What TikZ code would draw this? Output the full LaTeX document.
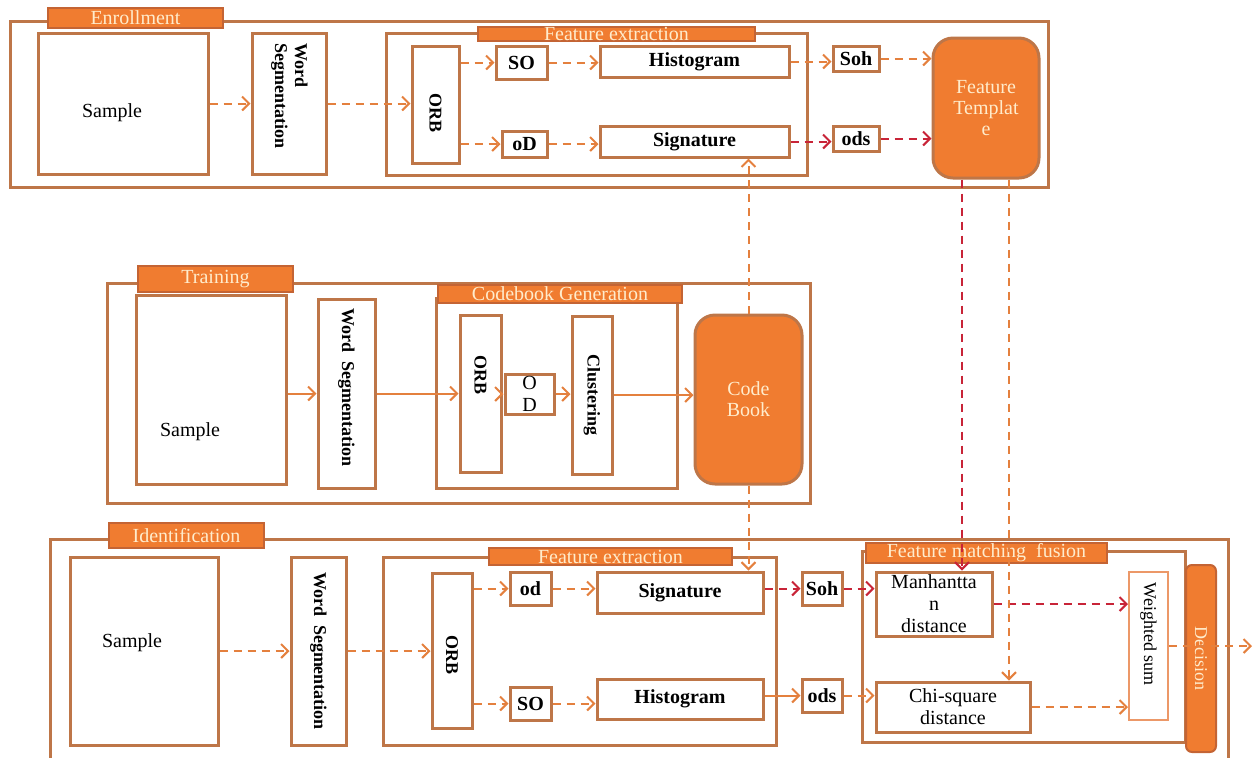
\documentclass[tikz,border=0pt]{standalone}
\usepackage{fontspec}
\setmainfont{Liberation Serif}
\usetikzlibrary{arrows.meta,positioning}

\definecolor{boxline}{RGB}{190,118,72}
\definecolor{flowor}{RGB}{228,128,62}
\definecolor{flowred}{RGB}{200,36,56}
\definecolor{tagfill}{RGB}{240,124,48}
\definecolor{tagline}{RGB}{196,100,52}
\definecolor{tagtext}{RGB}{255,236,204}
\definecolor{softline}{RGB}{236,152,104}

\newcommand{\rottext}[1]{\rotatebox{-90}{\fontsize{9}{10}\selectfont #1}}

\tikzset{
  area/.style n args={4}{minimum width={(#3-#1)*0.5pt},minimum height={(#4-#2)*0.5pt},at={({(#1+#3)/2},{(#2+#4)/2})}},
  group/.style={draw=boxline,line width=1.5pt,inner sep=0pt},
  box/.style={draw=boxline,line width=1.5pt,fill=white,inner sep=0pt,font=\fontsize{10}{11}\selectfont\bfseries},
  plainbox/.style={box,align=center,font=\fontsize{10}{11}\selectfont},
  tag/.style={draw=tagline,line width=1pt,fill=tagfill,inner sep=0pt,text=tagtext,font=\fontsize{10}{11}\selectfont},
  store/.style={draw=boxline,line width=1.5pt,fill=tagfill,rounded corners=10pt,inner sep=0pt,text=tagtext,align=center,font=\fontsize{10}{10.5}\selectfont},
  flow/.style={draw=flowor,line width=1pt,dash pattern=on 4pt off 3pt,-{Straight Barb[length=3.5pt,width=7pt]}},
  redflow/.style={flow,draw=flowred},
  solidflow/.style={flow,solid}
}

\begin{document}
\begin{tikzpicture}[x=0.5pt,y=-0.5pt]
 \useasboundingbox (0,0) rectangle (1254,757);
 % enrollment
 \node[group,area={10}{21}{1048}{187}] (enroll) {};
 \node[tag,area={48}{8}{223}{28}] (enrolltag) {Enrollment};
 \node[plainbox,area={38}{33}{208}{174},label={[xshift=-5.5pt,yshift=-4.75pt,font=\fontsize{10}{11}\selectfont]center:Sample}] (esample) {};
 \node[box,area={252}{33}{326}{174}] (eseg) {\rottext{\begin{tabular}{@{}l@{}}Word\\Segmentation\end{tabular}\hspace*{7.5pt}}};
 \node[group,area={386}{33}{807}{175}] (efeat) {};
 \node[tag,area={478}{27}{755}{41}] (efeattag) {Feature extraction};
 \node[box,area={412}{46}{459}{163}] (eorb) {\rottext{\hspace*{8pt}ORB}};
 \node[box,area={496}{46}{547}{79}] (eso) {SO};
 \node[box,area={600}{46}{789}{77}] (ehist) {Histogram};
 \node[box,area={502}{131}{547}{157}] (eod) {oD};
 \node[box,area={600}{126}{789}{157}] (esig) {Signature};
 \node[box,area={833}{46}{879}{71}] (esoh) {Soh};
 \node[box,area={833}{126}{879}{151}] (eods) {ods};
 \node[store,area={933}{38}{1039}{178}] (ftemp) {Feature\\Templat\\e};
 % training
 \node[group,area={107}{283}{810}{503}] (train) {};
 \node[tag,area={138}{266}{293}{292}] (traintag) {Training};
 \node[plainbox,area={136}{295}{286}{484},label={[xshift=-10.5pt,yshift=-21pt,font=\fontsize{10}{11}\selectfont]center:Sample}] (tsample) {};
 \node[box,area={318}{299}{375}{488}] (tseg) {\rottext{Word\ \ Segmentation\hspace*{6pt}}};
 \node[group,area={436}{298}{677}{488}] (tcode) {};
 \node[tag,area={438}{285}{682}{303}] (tcodetag) {Codebook Generation};
 \node[box,area={460}{315}{501}{472}] (torb) {\rottext{ORB\hspace*{19pt}}};
 \node[plainbox,area={505}{374}{554}{414}] (tod) {O\\D};
 \node[box,area={572}{316}{612}{474}] (tclus) {\rottext{Clustering}};
 \node[store,area={695}{315}{802}{484}] (cbook) {Code\\Book};
 % identification
 \node[group,area={50}{539}{1228}{770}] (ident) {};
 \node[tag,area={109}{523}{264}{548}] (identtag) {Identification};
 \node[plainbox,area={70}{557}{218}{745},label={[xshift=-6pt,yshift=4pt,font=\fontsize{10}{11}\selectfont]center:Sample}] (isample) {};
 \node[box,area={291}{557}{346}{745}] (iseg) {\rottext{Word\ \ Segmentation}};
 \node[group,area={383}{557}{776}{745}] (ifeat) {};
 \node[tag,area={489}{548}{732}{565}] (ifeattag) {Feature extraction};
 \node[box,area={432}{573}{472}{728}] (iorb) {\rottext{\hspace*{4pt}ORB}};
 \node[box,area={510}{572}{551}{605}] (iod) {od};
 \node[box,area={597}{572}{763}{613}] (isig) {Signature};
 \node[box,area={510}{687}{551}{720}] (iso) {SO};
 \node[box,area={597}{679}{763}{719}] (ihist) {Histogram};
 \node[box,area={802}{572}{842}{605}] (isoh) {Soh};
 \node[box,area={802}{679}{842}{712}] (iods) {ods};
 % matching and fusion
 \node[group,area={862}{551}{1185}{742}] (fuse) {};
 \node[tag,area={866}{543}{1107}{563}] (fusetag) {Feature matching\ \ fusion};
 \node[plainbox,area={876}{572}{992}{636}] (mdist) {Manhantta\\n\\distance};
 \node[plainbox,area={876}{682}{1030}{732}] (chi) {Chi-square\\distance};
 \node[plainbox,draw=softline,line width=1pt,area={1129}{572}{1168}{720}] (wsum) {\rottext{Weighted sum\hspace*{12pt}}};
 \node[tag,rounded corners=3pt,area={1186}{565}{1216}{752}] (decide) {\rottext{Decision}};
 \coordinate (out) at (1252,646);

 \draw[flow] (esample.east) -- (esample.east -| eseg.west);
 \draw[flow] (eseg.east) -- (eseg.east -| eorb.west);
 \draw[flow] (eorb.east |- eso.west) -- (eso.west);
 \draw[flow] (eorb.east |- eod.west) -- (eod.west);
 \draw[flow] (eso.east) -- (eso.east -| ehist.west);
 \draw[flow] (eod.east) -- (eod.east -| esig.west);
 \draw[flow] (ehist.east) -- (ehist.east -| esoh.west);
 \draw[redflow] (esig.east) -- (esig.east -| eods.west);
 \draw[flow] (esoh.east) -- (esoh.east -| ftemp.west);
 \draw[redflow] (eods.east) -- (eods.east -| ftemp.west);

 \draw[solidflow] (tsample.east |- tseg.west) -- (tseg.west);
 \draw[solidflow] (tseg.east) -- (tseg.east -| torb.west);
 \draw[solidflow] (torb.east |- tod.west) -- (tod.west);
 \draw[solidflow] (tod.east) -- (tod.east -| tclus.west);
 \draw[solidflow] (tclus.east) -- (tclus.east -| cbook.west);
 \draw[flow] (cbook.north) -- (cbook.north |- esig.south);
 \draw[flow] (cbook.south) -- (cbook.south |- isig.north);

 \draw[flow] (isample.east) -- (isample.east -| iseg.west);
 \draw[flow] (iseg.east) -- (iseg.east -| iorb.west);
 \draw[flow] (iorb.east |- iod.west) -- (iod.west);
 \draw[flow] (iorb.east |- iso.west) -- (iso.west);
 \draw[flow] (iod.east) -- (iod.east -| isig.west);
 \draw[flow] (iso.east) -- (iso.east -| ihist.west);
 \draw[redflow] (isig.east |- isoh.west) -- (isoh.west);
 \draw[solidflow] (ihist.east |- iods.west) -- (iods.west);
 \draw[redflow] (isoh.east) -- (isoh.east -| mdist.west);
 \draw[flow] (iods.east) -- (iods.east -| chi.west);
 \draw[redflow] (mdist.east) -- (mdist.east -| wsum.west);
 \draw[flow] (chi.east) -- (chi.east -| wsum.west);
 \draw[flow] (wsum.east) -- (out);
 \draw[redflow] ([xshift=-12pt]ftemp.south) -- ([xshift=-12pt]ftemp.south |- mdist.north);
 \draw[flow] ([xshift=11.5pt]ftemp.south) -- ([xshift=11.5pt]ftemp.south |- chi.north);
\end{tikzpicture}
\end{document}
